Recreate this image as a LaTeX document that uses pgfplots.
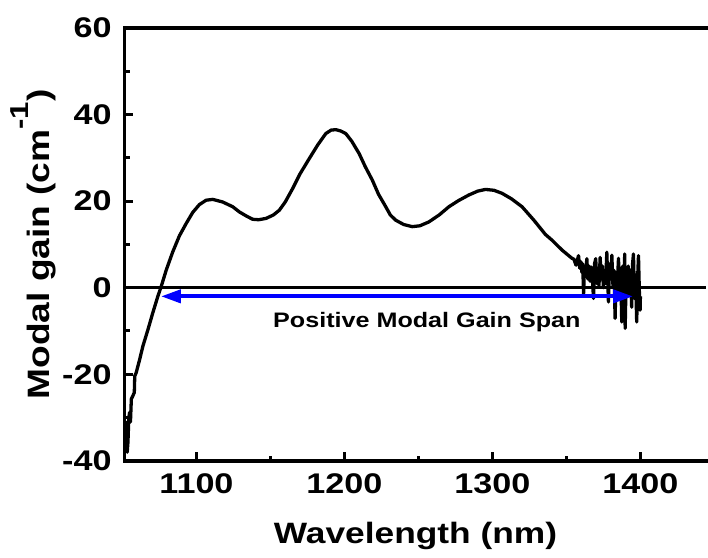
\documentclass[border=0pt]{standalone}
\usepackage{fontspec}
\setmainfont{Liberation Sans}[FakeStretch=1.2]
\usepackage{pgfplots}
\pgfplotsset{compat=1.18}
\usetikzlibrary{arrows.meta}

\pgfplotstableread{
x y
1052.1 -37.2
1052.6 -31.1
1053.2 -38.0
1053.7 -35.7
1054.3 -30.0
1054.8 -28.8
1055.4 -31.0
1056.0 -25.7
1057.0 -25.0
1058.0 -24.2
1058.3 -20.4
1059.3 -19.6
1061.6 -16.6
1063.8 -13.5
1067.2 -9.7
1070.5 -5.8
1073.9 -2.0
1076.2 0.3
1079.6 4.1
1084.0 8.3
1088.5 12.0
1093.0 14.8
1097.5 17.4
1102.0 19.2
1106.5 20.2
1111.0 20.4
1117.7 19.8
1124.5 18.7
1129.0 17.5
1134.0 16.5
1138.0 15.8
1142.0 15.7
1147.0 16.0
1152.0 16.8
1156.0 17.9
1160.0 19.8
1165.0 22.9
1170.0 26.3
1176.2 29.8
1182.0 33.0
1187.4 35.6
1191.0 36.4
1194.2 36.5
1197.5 36.2
1200.9 35.6
1205.0 33.8
1209.9 31.0
1214.0 28.0
1218.9 24.8
1223.0 21.6
1227.9 18.7
1231.0 16.8
1234.6 15.6
1240.0 14.6
1245.8 14.1
1251.0 14.3
1257.1 15.2
1264.0 16.8
1270.6 18.7
1277.0 20.1
1284.0 21.4
1290.0 22.3
1295.3 22.7
1301.0 22.5
1306.5 21.8
1313.0 20.5
1320.0 18.7
1328.0 15.6
1335.8 12.3
1340.2 11.0
1347.0 8.7
1353.7 6.8
1355.0 6.6
1356.5 5.2
1357.3 6.3
1358.2 7.4
1359.0 4.5
1359.8 6.0
1360.5 3.5
1361.0 5.5
1361.6 -1.4
1362.2 4.8
1363.0 3.0
1363.8 6.7
1364.5 2.0
1365.2 5.0
1366.0 1.5
1366.7 4.8
1367.5 2.5
1368.3 -2.5
1369.0 5.5
1369.8 6.7
1370.5 1.0
1371.2 4.5
1372.0 0.5
1372.8 7.0
1373.5 2.0
1374.3 5.0
1375.0 0.0
1375.8 4.0
1376.5 1.0
1377.3 8.2
1378.0 1.0
1378.4 -3.3
1379.2 5.5
1380.0 2.0
1380.7 7.5
1381.5 0.0
1382.2 4.0
1382.9 -7.1
1383.6 3.5
1384.4 1.0
1385.2 6.8
1385.9 -2.0
1386.6 4.5
1387.4 -7.9
1388.1 5.0
1388.8 -1.0
1389.4 7.8
1389.7 -9.4
1390.4 3.0
1391.1 -2.0
1391.8 5.0
1392.5 -1.5
1393.3 4.0
1394.1 -4.5
1394.7 5.5
1395.3 7.8
1396.0 -2.5
1396.7 3.0
1397.5 -7.9
1398.1 2.0
1398.7 7.4
1399.3 -1.0
1399.8 -5.2
1400.0 -2.0
}\gaindata

\begin{document}
\begin{tikzpicture}
\begin{axis}[
  scale only axis, width=583pt, height=434pt,
  xmin=1051.5, xmax=1444.5, ymin=-40, ymax=60,
  axis line style={draw=none},
  clip=false,
  xtick={1100,1200,1300,1400}, ytick={-40,-20,0,20,40,60},
  minor x tick num=1, minor y tick num=1,
  tick align=inside, xtick pos=bottom, ytick pos=left,
  major tick length=8.5pt, minor tick length=5pt,
  every tick/.style={black, line width=3pt},
  /pgf/number format/assume math mode=true,
  /pgf/number format/1000 sep={},
  ticklabel style={font=\fontsize{28.5}{30}\selectfont\bfseries, inner sep=0pt},
  yticklabel style={xshift=-13pt},
  xticklabel style={yshift=-13pt},
  every axis x label/.style={at={([yshift=-83pt]rel axis cs:0.5,0)}, anchor=base, font=\fontsize{29.5}{32}\selectfont\bfseries},
  every axis y label/.style={at={([xshift=-75pt]rel axis cs:0,0.5)}, rotate=90, anchor=base, font=\fontsize{31}{34}\selectfont\bfseries},
  xlabel={Wavelength (nm)},
  ylabel={Modal gain (cm\raisebox{21pt}{\fontsize{26}{26}\selectfont -1})},
]
\coordinate (bl) at (rel axis cs:0,0);
\coordinate (tl) at (rel axis cs:0,1);
\coordinate (br) at (rel axis cs:1,0);
\coordinate (tr) at (rel axis cs:1,1);
\addplot[black, line width=3pt] coordinates {(1051.5,0) (1444.5,0)};
\addplot[black, line width=3.3pt, line join=round] table {\gaindata};
\addplot[blue, line width=4pt, {Triangle[length=20pt,width=13pt]}-{Triangle[length=20pt,width=13pt]}] coordinates {(1076,-2) (1395,-2)};
\node[anchor=base, font=\fontsize{21}{24}\selectfont\bfseries] at (axis cs:1255.7,-9.3) {Positive Modal Gain Span};
\end{axis}
\draw[black, line width=3.5pt, line cap=rect] (tr) -- (tl) -- (bl) -- (br);
\path (bl) ++(-125pt,-97pt);
\path (tl) ++(0pt,28pt);
\end{tikzpicture}
\end{document}
